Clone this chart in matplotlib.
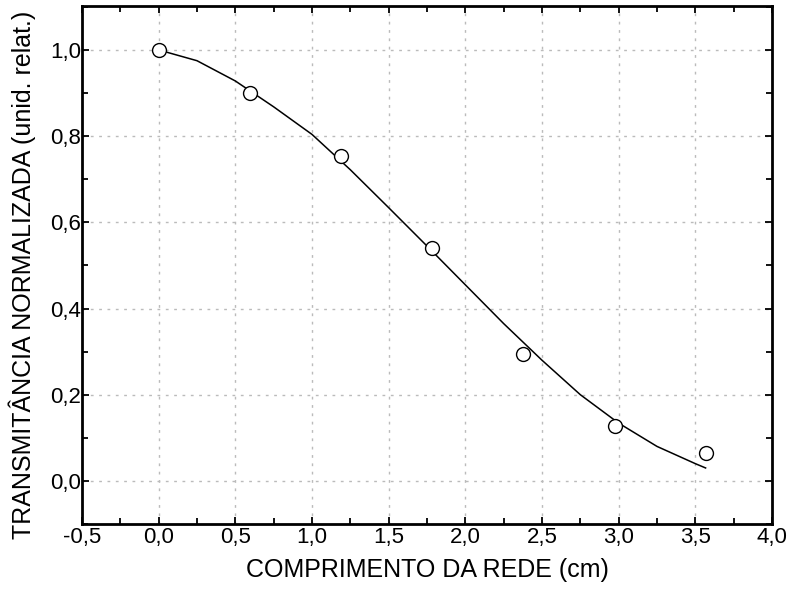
import numpy as np
import matplotlib
matplotlib.use('Agg')
import matplotlib.pyplot as plt
from matplotlib.ticker import FuncFormatter, MultipleLocator

# measured points
x_pts = [0.0, 0.595, 1.188, 1.785, 2.378, 2.973, 3.567]
y_pts = [1.0, 0.901, 0.753, 0.541, 0.295, 0.127, 0.064]

# fitted curve
x_fit = [0.0, 0.25, 0.5, 0.75, 1.0, 1.25, 1.5, 1.75, 2.0, 2.25, 2.5, 2.75, 3.0, 3.25, 3.5, 3.567]
y_fit = [1.0, 0.975, 0.928, 0.868, 0.804, 0.722, 0.634, 0.545, 0.455, 0.365, 0.28, 0.2, 0.134, 0.08, 0.04, 0.03]

plt.rcParams['font.family'] = ['Liberation Sans', 'DejaVu Sans']

fig = plt.figure(figsize=(7.93, 5.92), dpi=100)
ax = fig.add_axes([0.1034, 0.1149, 0.8701, 0.875])

ax.plot(x_fit, y_fit, color='black', lw=1.1, zorder=3, solid_joinstyle='round')
ax.plot(x_pts, y_pts, 'o', mfc='white', mec='black', ms=10, mew=1.0, zorder=4)

ax.set_xlim(-0.5, 4.0)
ax.set_ylim(-0.1, 1.102)
ax.xaxis.set_major_locator(MultipleLocator(0.5))
ax.xaxis.set_minor_locator(MultipleLocator(0.25))
ax.yaxis.set_major_locator(MultipleLocator(0.2))
ax.yaxis.set_minor_locator(MultipleLocator(0.1))

comma = FuncFormatter(lambda v, p: f'{v:.1f}'.replace('.', ',').replace('-0,0', '0,0'))
ax.xaxis.set_major_formatter(comma)
ax.yaxis.set_major_formatter(comma)

ax.tick_params(which='both', direction='in', top=True, right=True, labelsize=16, width=1.3)
ax.tick_params(which='major', length=5)
ax.tick_params(which='minor', length=4)
ax.tick_params(axis='y', pad=0.5)
ax.tick_params(axis='x', pad=2.5)

ax.grid(True, which='major', color='#bbbbbb', linestyle=(0, (2, 4)), lw=1.0)
for s in ax.spines.values():
    s.set_linewidth(2)

ax.set_xlabel('COMPRIMENTO DA REDE (cm)', fontsize=18, labelpad=7)
ax.set_ylabel('TRANSMITÂNCIA NORMALIZADA (unid. relat.)', fontsize=18, labelpad=6)
ax.yaxis.set_label_coords(-0.067, 0.48)

plt.savefig('out.png', dpi=100)
